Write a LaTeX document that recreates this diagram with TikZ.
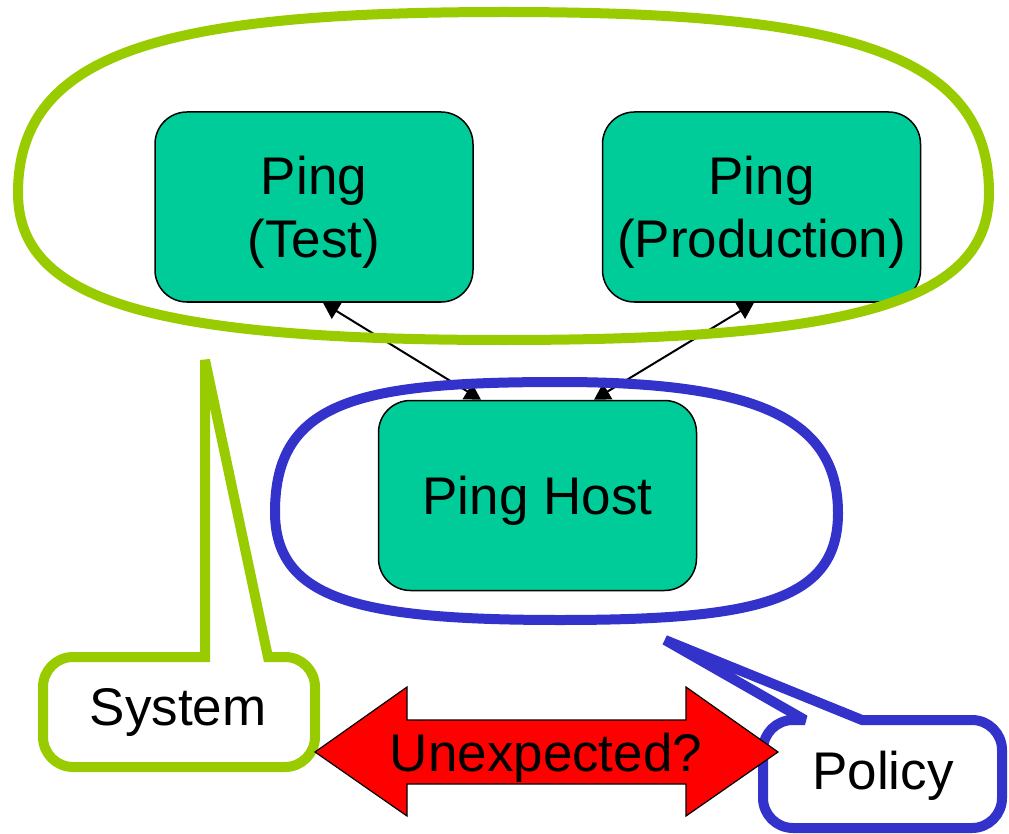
\documentclass[tikz,border=0pt]{standalone}
\usepackage{fontspec}
\setmainfont{Liberation Sans}
\usetikzlibrary{arrows.meta}
\definecolor{limegreen}{HTML}{99CC00}
\definecolor{hostblue}{HTML}{3333CC}
\definecolor{boxteal}{HTML}{00CC99}
\tikzset{
  pingbox/.style={draw=black, line width=1.5pt, fill=boxteal, rounded corners=32pt,
    minimum width=318pt, minimum height=190pt, align=center, text depth=0pt, inner sep=0pt},
  hostlink/.style={line width=2pt,
    {Triangle[length=16pt,width=18pt]}-{Triangle[length=16pt,width=18pt]}},
  blob/.style={line width=10pt},
  callout/.style={line width=10pt, fill=white, line join=miter, miter limit=2},
  plaintext/.style={text depth=0pt, inner sep=0pt},
  bigarrow/.style={draw=black, line width=1.2pt, fill=red, line join=miter}
}
\begin{document}
\begin{tikzpicture}[x=1pt, y=-1pt, font=\fontsize{53}{63}\selectfont]
\useasboundingbox (0,0) rectangle (1009,834);

% the three ping boxes
\node[pingbox] (test) at (314,207) {Ping\\(Test)};
\node[pingbox] (prod) at (761.5,207) {Ping\\(Production)};
\node[pingbox] (host) at (537.5,495.5) {Ping Host};

% links between the host and the two instances
\draw[hostlink] ([xshift=-56.5pt]host.north) -- ([xshift=9pt]test.south);
\draw[hostlink] ([xshift=56.5pt]host.north) -- ([xshift=-7.5pt]prod.south);

% system boundary
\draw[blob, limegreen] (18,193) .. controls (18,50) and (170,12) .. (504,12)
  .. controls (838,12) and (989,50) .. (989,193)
  .. controls (989,300) and (858,340) .. (504,340)
  .. controls (150,340) and (18,300) .. cycle;

% policy boundary
\draw[blob, hostblue] (275,512) .. controls (275,400) and (360,382) .. (560,382)
  .. controls (760,382) and (838,420) .. (838,513)
  .. controls (838,600) and (760,620) .. (560,620)
  .. controls (360,620) and (275,600) .. cycle;

% callout for the system
\draw[callout, draw=limegreen] (205,360) -- (268,657)
  [rounded corners=30pt] -- (315,657) -- (315,767) -- (43,767) -- (43,657)
  [sharp corners] -- (205,657) -- cycle;
\node[plaintext] (systemlabel) at (178,707) {System};

% callout for the policy
\draw[callout, draw=hostblue] (665,640) -- (862,720)
  [rounded corners=30pt] -- (1002,720) -- (1002,828) -- (763,828) -- (763,720)
  [sharp corners] -- (805,720) -- cycle;
\node[plaintext] (policylabel) at (883,770) {Policy};

% double-headed arrow between the two callouts
\draw[bigarrow] (315,752) -- (407,687) -- (407,720) -- (686,720) -- (686,687)
  -- (778,752) -- (686,816) -- (686,784) -- (407,784) -- (407,816) -- cycle;
\node[plaintext] (unexpected) at (546,752) {Unexpected?};
\end{tikzpicture}
\end{document}
